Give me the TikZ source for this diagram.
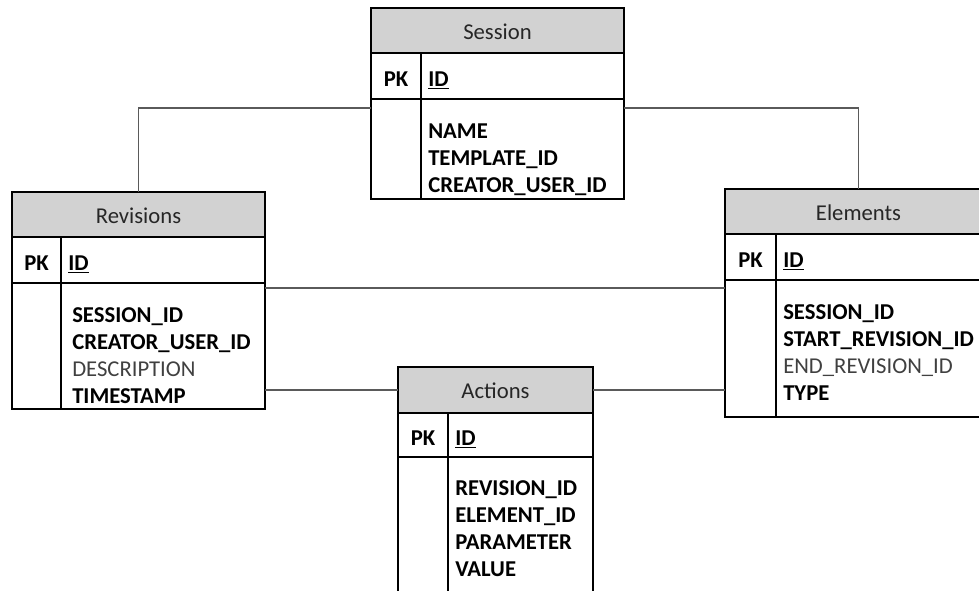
\documentclass[tikz,border=0pt]{standalone}
\usepackage{fontspec}
\setmainfont{Carlito}
\usetikzlibrary{calc}

\definecolor{hdrfill}{HTML}{D2D2D2}
\definecolor{linkgray}{HTML}{5A5A5A}
\definecolor{titletext}{HTML}{262626}
\definecolor{softtext}{HTML}{404040}

\tikzset{
  x=0.75pt, y=-0.75pt,
  cell/.style={draw=black, line width=1.5pt, inner sep=0pt, outer sep=0pt,
               anchor=north west},
  hdrcell/.style={cell, fill=hdrfill},
  title/.style={font=\fontsize{17}{20}\selectfont, text=titletext, inner sep=0pt},
  keytext/.style={font=\fontsize{17}{20}\selectfont\bfseries, anchor=base, inner sep=0pt},
  % multi-line field lists are placed by the baseline of their last line
  fieldtext/.style={font=\fontsize{17}{20.25}\selectfont, anchor=base west,
                    inner sep=0pt, align=left},
  link/.style={draw=linkgray, line width=0.9pt},
}

% One entity table: name, x1, x2, column divider, top, header bottom,
% key-row bottom, bottom, title
\newcommand\entitytable[9]{%
  \node[hdrcell, minimum width={(#3-#2)*0.75pt}, minimum height={(#6-#5)*0.75pt}]
    (#1-h) at (#2,#5) {};
  \node[cell, minimum width={(#3-#2)*0.75pt}, minimum height={(#7-#6)*0.75pt}]
    (#1-k) at (#2,#6) {};
  \node[cell, minimum width={(#3-#2)*0.75pt}, minimum height={(#8-#7)*0.75pt}]
    (#1-b) at (#2,#7) {};
  \draw[line width=1.5pt] (#4,#6) -- (#4,#8);
  \node[title] (#1-t) at ($(#1-h.center)+(0,1)$) {#9};
  \node[keytext] (#1-pk) at ($(#2/2+#4/2,#6/2+#7/2)+(0,10)$) {PK};
  \node[keytext, anchor=base west] (#1-id) at ($(#4,#6/2+#7/2)+(7,10)$) {\underline{ID}};
}

\begin{document}
\begin{tikzpicture}
  \useasboundingbox (0,0) rectangle (979,590);
  \clip (0,0) rectangle (979,590);

  % tables
  \entitytable{ses}{371}{624}{421}{8}{53}{99}{199}{Session}
  \entitytable{rev}{12}{265}{61}{192}{237}{283}{409}{Revisions}
  \entitytable{ele}{725}{992}{776}{189}{234}{280}{417}{Elements}
  \entitytable{act}{398}{593}{448}{367}{413}{457}{640}{Actions}

  % field lists
  \node[fieldtext] (ses-f) at (428,192) {\textbf{NAME}\\\textbf{TEMPLATE\_ID}\\\textbf{CREATOR\_USER\_ID}};
  \node[fieldtext] (rev-f) at (72,403) {\textbf{SESSION\_ID}\\\textbf{CREATOR\_USER\_ID}\\\textcolor{softtext}{DESCRIPTION}\\\textbf{TIMESTAMP}};
  \node[fieldtext] (ele-f) at (783,400) {\textbf{SESSION\_ID}\\\textbf{START\_REVISION\_ID}\\\textcolor{softtext}{END\_REVISION\_ID}\\\textbf{TYPE}};
  \node[fieldtext] (act-f) at (455,576) {\textbf{REVISION\_ID}\\\textbf{ELEMENT\_ID}\\\textbf{PARAMETER}\\\textbf{VALUE}};

  % relationships
  \coordinate (sesL) at ($(ses-b.north west)+(0,9)$);
  \coordinate (sesR) at ($(ses-b.north east)+(0,9)$);
  \coordinate (revR) at ($(rev-b.north east)+(0,5)$);
  \draw[link] (sesL) -| (rev-h.north);
  \draw[link] (sesR) -| (ele-h.north);
  \draw[link] (revR) -- (revR -| ele-b.west);
  \draw[link] (act-h.west) -- (act-h.west -| rev-b.east);
  \draw[link] (act-h.east) -- (act-h.east -| ele-b.west);
\end{tikzpicture}
\end{document}
